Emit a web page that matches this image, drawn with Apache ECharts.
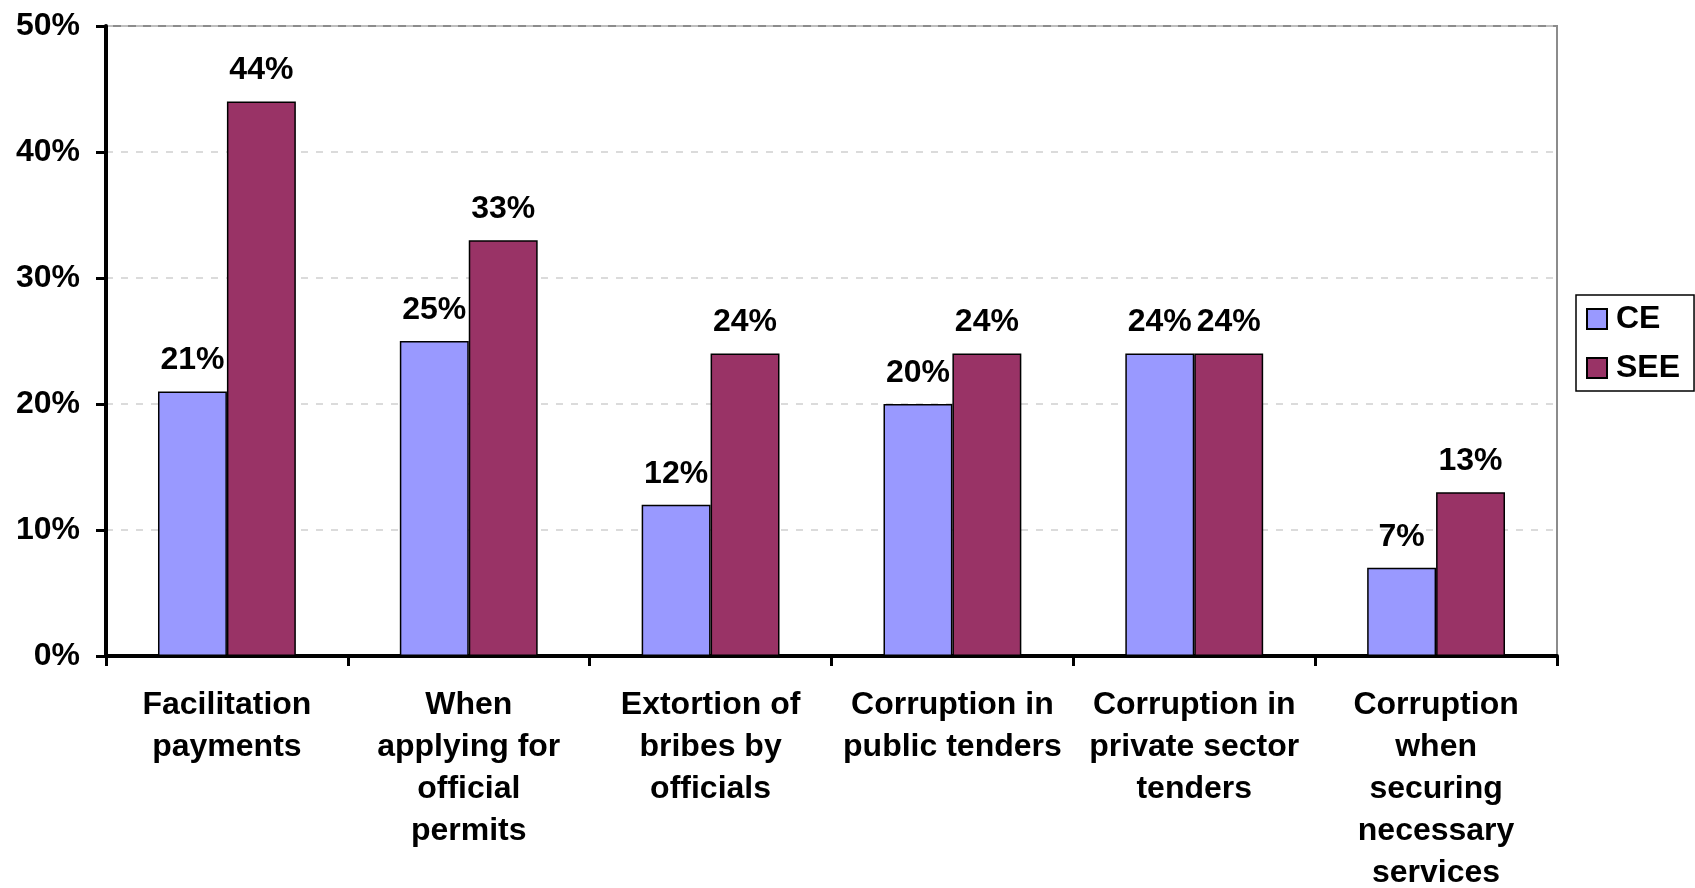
<!DOCTYPE html>
<html>
<head>
<meta charset="utf-8">
<script src="https://cdn.jsdelivr.net/npm/echarts@6/dist/echarts.min.js"></script>
<style>
  html, body { margin: 0; padding: 0; background: #fff; }
  #chart { width: 1695px; height: 888px; }
</style>
</head>
<body>
<div id="chart"></div>
<script>
// Forms of corruption: share of respondents, CE vs SEE
const categories = [
  'Facilitation\npayments',
  'When\napplying for\nofficial\npermits',
  'Extortion of\nbribes by\nofficials',
  'Corruption in\npublic tenders',
  'Corruption in\nprivate sector\ntenders',
  'Corruption\nwhen\nsecuring\nnecessary\nservices'
];
const ceValues = [21, 25, 12, 20, 24, 7];
const seeValues = [44, 33, 24, 24, 24, 13];
const seriesNames = ['CE', 'SEE'];

const FONT = '"Liberation Sans", Arial, Helvetica, sans-serif';
const chart = echarts.init(document.getElementById('chart'), null, { renderer: 'canvas' });

const valueLabel = {
  show: true,
  position: 'top',
  distance: 15,
  formatter: '{c}%',
  fontFamily: FONT,
  fontWeight: 'bold',
  fontSize: 32,
  color: '#000'
};

chart.setOption({
  animation: false,
  backgroundColor: '#fff',
  grid: {
    left: 106, right: 138, top: 26, bottom: 232,
    outerBoundsMode: 'none',
    containLabel: false,
    show: true, borderColor: '#8c8c8c', borderWidth: 2, backgroundColor: 'transparent'
  },
  legend: {
    orient: 'vertical',
    left: 1576, top: 295,
    padding: [8, 14, 7, 10],
    itemWidth: 20, itemHeight: 20, itemGap: 17,
    borderColor: '#000', borderWidth: 1.5,
    icon: 'rect',
    textStyle: {
      fontFamily: FONT, fontWeight: 'bold', fontSize: 32, color: '#000',
      lineHeight: 31, padding: [0, 0, 0, 4]
    },
    data: seriesNames
  },
  xAxis: {
    type: 'category',
    data: categories,
    axisLine: { lineStyle: { color: '#000', width: 4 } },
    axisTick: { show: true, length: 10, lineStyle: { color: '#000', width: 3 } },
    axisLabel: {
      interval: 0, margin: 28,
      fontFamily: FONT, fontWeight: 'bold', fontSize: 32, color: '#000',
      lineHeight: 42, align: 'center'
    },
    splitLine: { show: false }
  },
  yAxis: {
    type: 'value',
    min: 0, max: 50, interval: 10,
    axisLine: { show: true, lineStyle: { color: '#000', width: 4 } },
    axisTick: { show: true, length: 10, lineStyle: { color: '#000', width: 3 } },
    axisLabel: {
      formatter: '{value}%', margin: 26,
      fontFamily: FONT, fontWeight: 'bold', fontSize: 32, color: '#000'
    },
    splitLine: { show: true, lineStyle: { color: '#cfcfcf', width: 1.5, type: [7, 8] } }
  },
  series: [
    {
      name: seriesNames[0], type: 'bar', data: ceValues,
      barWidth: '28.5%', barGap: '0%',
      itemStyle: { color: '#9999ff', borderColor: '#000', borderWidth: 1.5 },
      label: valueLabel
    },
    {
      name: seriesNames[1], type: 'bar', data: seeValues,
      barWidth: '28.5%', barGap: '0%',
      itemStyle: { color: '#993366', borderColor: '#000', borderWidth: 1.5 },
      label: valueLabel
    }
  ]
});
</script>
</body>
</html>
